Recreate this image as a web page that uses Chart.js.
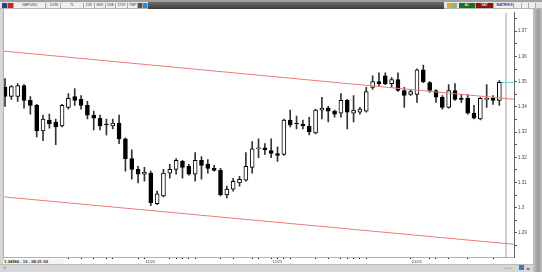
<!DOCTYPE html>
<html>
<head>
<meta charset="utf-8">
<title>GBPUSD</title>
<script src="https://cdn.jsdelivr.net/npm/chart.js@4.4.1/dist/chart.umd.min.js"></script>
<style>
  body { margin: 0; width: 542px; height: 272px; overflow: hidden; position: relative; background: #d6d6d6; font-family: "Liberation Sans", Arial, sans-serif; }
  .abs { position: absolute; }
  #titlebar { left: 0; top: 0; width: 542px; height: 2px; background: #a0a0a0; }
  #toolbar { left: 0; top: 2px; width: 542px; height: 6px; background: #e4e4e4; border-bottom: 1px solid #b4b4b4; }
  #darkbar { left: 148px; top: 2px; width: 296px; height: 7px; background: linear-gradient(#6c6c6c, #3c3c3c); }
  .btn { position: absolute; top: 1px; height: 5px; line-height: 5px; font-size: 3.6px; text-align: center; color: #333; background: #f0f0f0; border-right: 1px solid #aaa; white-space: nowrap; overflow: hidden; }
  #frame { left: 3px; top: 9px; width: 530px; height: 255px; background: #fff; border-left: 1px solid #b0b0b0; }
  #rightbar { left: 533px; top: 9px; width: 9px; height: 263px; background: linear-gradient(to right, #c6c6c6, #9a9a9a 60%, #c0c0c0); }
  #wrap { left: 4px; top: 9px; width: 528px; height: 255px; }
  #readout { left: 3px; top: 259px; width: 60px; height: 5px; line-height: 5px; font-size: 4.2px; font-weight: bold; color: #222; background: #f4f4f4; padding-left: 1px; }
  #bottombar { left: 0; top: 264px; width: 533px; height: 8px; background: #d6d6d6; border-top: 1px solid #bcbcbc; }
</style>
</head>
<body>
<div id="titlebar" class="abs"></div>
<div id="toolbar" class="abs">
  <div class="btn" style="left:2px;width:5px;background:#2c3f8f;"></div>
  <div class="btn" style="left:8px;width:5px;background:#cc2222;"></div>
  <div class="btn" style="left:14px;width:31px;">GBPUSD</div>
  <div class="btn" style="left:48px;width:12px;">DUN</div>
  <div class="btn" style="left:61px;width:22px;">TL</div>
  <div class="btn" style="left:84px;width:10px;">12K</div>
  <div class="btn" style="left:95px;width:10px;">6KK</div>
  <div class="btn" style="left:106px;width:9px;">5VE</div>
  <div class="btn" style="left:116px;width:11px;">5YIV</div>
  <div class="btn" style="left:128px;width:9px;">TMP</div>
  <div class="btn" style="left:138px;width:4px;background:#555;"></div>
  <div class="btn" style="left:143px;width:4px;background:#2a8fd8;"></div>
  <div class="btn" style="left:447px;width:4px;background:#e0b030;"></div>
  <div class="btn" style="left:452px;width:4px;background:#7cc070;"></div>
  <div class="btn" style="left:459px;width:16px;background:#1c6e1c;color:#fff;">AL</div>
  <div class="btn" style="left:476px;width:17px;background:#8e1010;color:#fff;">SAT</div>
  <div class="btn" style="left:496px;width:17px;color:#1c3c9c;font-weight:bold;">MATRIKS</div>
  <div class="btn" style="left:515px;width:6px;"></div>
  <div class="btn" style="left:522px;width:6px;"></div>
  <div class="btn" style="left:529px;width:6px;"></div>
</div>
<div id="darkbar" class="abs"></div>
<div id="frame" class="abs"></div>
<div id="rightbar" class="abs"></div>
<div id="bottombar" class="abs">
  <div class="abs" style="left:3px;top:1px;font-size:3px;color:#666;">ılıl</div>
  <div class="abs" style="left:503px;top:1px;font-size:3px;color:#666;">⊥⊥⊥</div>
  <div class="abs" style="left:519px;top:0;width:5px;height:5px;background:#3a78c8;"></div>
  <div class="abs" style="left:526px;top:1px;font-size:4px;color:#2a58b0;">◂▸</div>
</div>
<div id="wrap" class="abs"><canvas id="chart" width="528" height="255"></canvas></div>
<div id="readout" class="abs"></div>

<script>
// GBPUSD daily candles
const opens  = [1.3477, 1.3441, 1.3441, 1.3484, 1.3426, 1.3406, 1.3305, 1.3348, 1.3340, 1.3324,
                1.3398, 1.3441, 1.3430, 1.3406, 1.3367, 1.3355, 1.3328, 1.3324, 1.3336, 1.3273,
                1.3195, 1.3152, 1.3133, 1.3137, 1.3016, 1.3047, 1.3137, 1.3152, 1.3184, 1.3164,
                1.3133, 1.3188, 1.3172, 1.3156, 1.3148, 1.3051, 1.3074, 1.3098, 1.3109, 1.3160,
                1.3234, 1.3238, 1.3227, 1.3215, 1.3211, 1.3348, 1.3336, 1.3332, 1.3324, 1.3297,
                1.3387, 1.3395, 1.3383, 1.3375, 1.3426, 1.3375, 1.3379, 1.3383, 1.3477, 1.3500,
                1.3523, 1.3492, 1.3508, 1.3465, 1.3449, 1.3449, 1.3547, 1.3496, 1.3465, 1.3438,
                1.3398, 1.3465, 1.3434, 1.3434, 1.3375, 1.3352, 1.3430, 1.3434, 1.3426];
const highs  = [1.3512, 1.3484, 1.3492, 1.3488, 1.3441, 1.3410, 1.3367, 1.3371, 1.3352, 1.3410,
                1.3453, 1.3473, 1.3445, 1.3422, 1.3383, 1.3367, 1.3352, 1.3352, 1.3367, 1.3277,
                1.3230, 1.3164, 1.3160, 1.3145, 1.3066, 1.3152, 1.3172, 1.3195, 1.3188, 1.3172,
                1.3219, 1.3203, 1.3191, 1.3168, 1.3156, 1.3086, 1.3117, 1.3125, 1.3219, 1.3262,
                1.3273, 1.3254, 1.3273, 1.3242, 1.3352, 1.3387, 1.3363, 1.3348, 1.3359, 1.3391,
                1.3438, 1.3402, 1.3387, 1.3453, 1.3430, 1.3445, 1.3398, 1.3477, 1.3523, 1.3535,
                1.3535, 1.3516, 1.3535, 1.3477, 1.3469, 1.3551, 1.3566, 1.3500, 1.3469, 1.3445,
                1.3488, 1.3492, 1.3449, 1.3449, 1.3406, 1.3438, 1.3488, 1.3445, 1.3504];
const lows   = [1.3402, 1.3430, 1.3422, 1.3395, 1.3371, 1.3281, 1.3266, 1.3316, 1.3250, 1.3320,
                1.3391, 1.3406, 1.3391, 1.3352, 1.3309, 1.3309, 1.3289, 1.3313, 1.3254, 1.3145,
                1.3113, 1.3098, 1.3105, 1.3008, 1.3012, 1.3043, 1.3117, 1.3133, 1.3117, 1.3129,
                1.3105, 1.3113, 1.3137, 1.3145, 1.3047, 1.3039, 1.3066, 1.3086, 1.3105, 1.3137,
                1.3199, 1.3211, 1.3199, 1.3184, 1.3207, 1.3320, 1.3313, 1.3313, 1.3289, 1.3293,
                1.3352, 1.3340, 1.3359, 1.3359, 1.3313, 1.3340, 1.3371, 1.3379, 1.3469, 1.3484,
                1.3488, 1.3477, 1.3461, 1.3398, 1.3445, 1.3418, 1.3496, 1.3457, 1.3418, 1.3391,
                1.3395, 1.3426, 1.3418, 1.3371, 1.3352, 1.3348, 1.3398, 1.3410, 1.3406];
const closes = [1.3441, 1.3480, 1.3484, 1.3426, 1.3406, 1.3305, 1.3352, 1.3332, 1.3320, 1.3406,
                1.3434, 1.3426, 1.3406, 1.3367, 1.3355, 1.3324, 1.3328, 1.3336, 1.3273, 1.3195,
                1.3152, 1.3133, 1.3141, 1.3020, 1.3055, 1.3137, 1.3152, 1.3188, 1.3160, 1.3133,
                1.3188, 1.3168, 1.3156, 1.3148, 1.3051, 1.3074, 1.3105, 1.3113, 1.3164, 1.3234,
                1.3238, 1.3230, 1.3215, 1.3207, 1.3348, 1.3328, 1.3332, 1.3324, 1.3301, 1.3387,
                1.3395, 1.3383, 1.3371, 1.3426, 1.3379, 1.3387, 1.3391, 1.3461, 1.3500, 1.3492,
                1.3492, 1.3508, 1.3465, 1.3445, 1.3461, 1.3547, 1.3500, 1.3465, 1.3438, 1.3398,
                1.3465, 1.3430, 1.3430, 1.3375, 1.3355, 1.3434, 1.3434, 1.3426, 1.3497];

// channel lines, value at the left and right edge of the plot
const upperChannel = [1.3621, 1.3430];
const lowerChannel = [1.3043, 1.2855];
const lastPrice = 1.34966;

// time axis: month starts carry a label, the rest are plain marks
const monthTicks  = [22, 42, 64];
const monthLabels = ['11/25', '12/25', '01/26'];
const minorTicks  = [10, 12, 14, 16, 17, 21, 26, 27, 28, 29, 30, 34, 36, 39, 40, 43, 44, 45,
                     49, 51, 53, 54, 55, 56, 57, 67, 68, 70, 73, 77];

const xMin = -0.16, xMax = 80.31;
const yMin = 1.28047, yMax = 1.37734, yStep = 0.005;

document.getElementById('readout').textContent = lastPrice.toFixed(5) + ' - 10 - 08:31:30';

function candleBodies() {
    return opens.map((o, i) => ({ x: i, y: [o, closes[i]] }));
}

function candleWicks() {
    return lows.map((l, i) => ({ x: i, y: [l, highs[i]] }));
}

function bodyColors() {
    return opens.map((o, i) => closes[i] > o ? '#ffffff' : '#000000');
}

function priceLabel(value) {
    const c = Math.round(value * 1000);
    if (c % 10 !== 0) return '';
    return String(c / 1000);
}

// draws the grey "now" line at the right end of the plot
const rightMarker = {
    id: 'rightMarker',
    beforeDatasetsDraw(chart) {
        const { ctx, chartArea } = chart;
        ctx.save();
        ctx.strokeStyle = '#cfcfcf';
        ctx.lineWidth = 2;
        ctx.beginPath();
        ctx.moveTo(chartArea.right - 8, chartArea.top);
        ctx.lineTo(chartArea.right - 8, chartArea.bottom);
        ctx.stroke();
        ctx.restore();
    }
};

const ctx = document.getElementById('chart').getContext('2d');
new Chart(ctx, {
    type: 'bar',
    data: {
        datasets: [
            {
                type: 'line',
                data: [{ x: xMin, y: upperChannel[0] }, { x: xMax, y: upperChannel[1] }],
                borderColor: '#f07a7a',
                borderWidth: 1,
                pointRadius: 0,
                order: 0
            },
            {
                type: 'line',
                data: [{ x: xMin, y: lowerChannel[0] }, { x: xMax, y: lowerChannel[1] }],
                borderColor: '#f07a7a',
                borderWidth: 1,
                pointRadius: 0,
                order: 0
            },
            {
                type: 'line',
                data: [{ x: 78.4, y: lastPrice }, { x: xMax, y: lastPrice }],
                borderColor: '#20c8c8',
                borderWidth: 1,
                borderDash: [2, 1],
                pointRadius: 0,
                order: 0
            },
            {
                data: candleBodies(),
                backgroundColor: bodyColors(),
                borderColor: '#000',
                borderWidth: 1,
                borderSkipped: false,
                barThickness: 4,
                minBarLength: 1,
                grouped: false,
                order: 1
            },
            {
                data: candleWicks(),
                backgroundColor: '#333',
                borderWidth: 0,
                barThickness: 1,
                grouped: false,
                order: 2
            }
        ]
    },
    options: {
        responsive: false,
        animation: false,
        devicePixelRatio: 1,
        layout: { padding: 0 },
        plugins: {
            legend: { display: false },
            tooltip: { enabled: false }
        },
        scales: {
            x: {
                type: 'linear',
                position: 'bottom',
                min: xMin,
                max: xMax,
                offset: false,
                afterBuildTicks: scale => {
                    scale.ticks = minorTicks.concat(monthTicks).sort((a, b) => a - b).map(v => ({ value: v }));
                },
                afterFit: scale => { scale.height = 7; },
                grid: { drawOnChartArea: false, offset: false, tickLength: 2, tickColor: '#111', tickWidth: 1 },
                border: { display: true, color: '#b0b0b0' },
                ticks: {
                    autoSkip: false,
                    maxRotation: 0,
                    align: 'start',
                    padding: 0,
                    color: '#444',
                    font: { family: 'Liberation Sans', size: 4 },
                    callback: value => {
                        const k = monthTicks.indexOf(value);
                        return k >= 0 ? ' ' + monthLabels[k] : '';
                    }
                }
            },
            y: {
                position: 'right',
                min: yMin,
                max: yMax,
                afterFit: scale => { scale.width = 18; },
                grid: { drawOnChartArea: false, tickLength: 3, tickColor: '#555' },
                border: { display: true, color: '#666' },
                ticks: {
                    stepSize: yStep,
                    includeBounds: false,
                    padding: 1,
                    color: '#444',
                    font: { family: 'Liberation Sans', size: 4.5 },
                    callback: priceLabel
                }
            }
        }
    },
    plugins: [rightMarker]
});
</script>
</body>
</html>
